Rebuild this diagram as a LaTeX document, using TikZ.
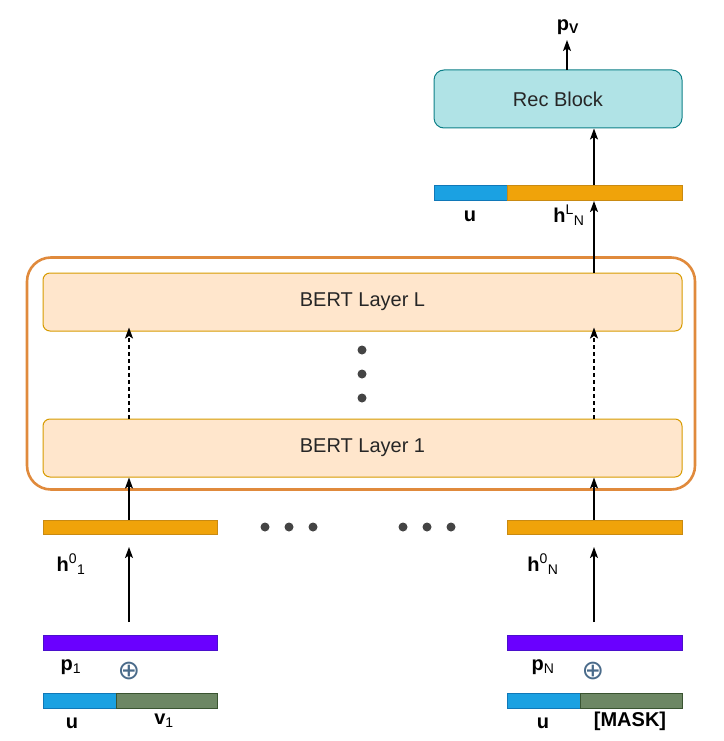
\documentclass[tikz,border=0pt]{standalone}
\usepackage{fontspec}
\setmainfont{Liberation Sans}
\newfontfamily\djv{DejaVu Sans}
\usetikzlibrary{arrows.meta}
\definecolor{orfill}{HTML}{F0A30A}
\definecolor{orline}{HTML}{C98A12}
\definecolor{blfill}{HTML}{1BA1E2}
\definecolor{blline}{HTML}{1078B8}
\definecolor{grfill}{HTML}{6D8764}
\definecolor{grline}{HTML}{3A5431}
\definecolor{pufill}{HTML}{6A00FF}
\definecolor{puline}{HTML}{4A10CC}
\definecolor{recfill}{HTML}{B0E3E6}
\definecolor{recline}{HTML}{0E8088}
\definecolor{bertfill}{HTML}{FFE6CC}
\definecolor{bertline}{HTML}{D79B00}
\definecolor{outerline}{HTML}{E08A3C}
\definecolor{dotcol}{HTML}{444444}
\definecolor{opluscol}{HTML}{4A6B8A}
\begin{document}
\begin{tikzpicture}[x=1pt,y=-1pt,
  bar/.style={draw, line width=1pt, inner sep=0pt, minimum height=15pt, anchor=center},
  orbar/.style={bar, fill=orfill, draw=orline},
  blbar/.style={bar, fill=blfill, draw=blline, minimum width=73pt},
  grbar/.style={bar, fill=grfill, draw=grline},
  pubar/.style={bar, fill=pufill, draw=puline, minimum width=174pt},
  bertbox/.style={draw=bertline, fill=bertfill, line width=1pt, rounded corners=7pt, minimum width=639pt, minimum height=58pt, inner sep=0pt, font=\fontsize{20}{24}\selectfont, text=black!85},
  lab/.style={font=\fontsize{20}{24}\selectfont, inner sep=0pt, anchor=center},
  arr/.style={-{Stealth[length=11pt,width=8pt,inset=2.5pt]}, line width=1.3pt},
  darr/.style={arr, dash pattern=on 4pt off 3pt},
  dotn/.style={circle, fill=dotcol, minimum size=9pt, inner sep=0pt},
  oplus/.style={font=\djv\fontsize{27}{27}\selectfont, text=opluscol, inner sep=0pt, anchor=center}
]
\useasboundingbox (0,0) rectangle (723,741);

% outer container
\node[draw=outerline, line width=2.6pt, rounded corners=24pt, minimum width=668pt, minimum height=232pt, inner sep=0pt] (outer) at (361,373.5) {};
\node[bertbox] (bertL) at (362.5,302) {BERT Layer L};
\node[bertbox] (bert1) at (362.5,448) {BERT Layer 1};

% vertical dots
\node[dotn] (vd1) at (362,350) {};
\node[dotn] (vd2) at (362,374) {};
\node[dotn] (vd3) at (362,398) {};
% horizontal dots
\node[dotn] (hd1) at (265,527) {};
\node[dotn] (hd2) at (289,527) {};
\node[dotn] (hd3) at (313,527) {};
\node[dotn] (hd4) at (403,527) {};
\node[dotn] (hd5) at (427,527) {};
\node[dotn] (hd6) at (451,527) {};

% Rec block
\node[draw=recline, fill=recfill, line width=1pt, rounded corners=10pt, minimum width=248pt, minimum height=58pt, inner sep=0pt, font=\fontsize{20}{24}\selectfont, text=black!85] (rec) at (558,99) {Rec Block};

% top bar
\node[blbar] (topu) at (470.5,193) {};
\node[orbar, minimum width=175pt] (toph) at (594.5,193) {};

% h0 bars
\node[orbar, minimum width=174pt, minimum height=14pt] (hb1) at (130,527) {};
\node[orbar, minimum width=175pt, minimum height=14pt] (hbN) at (594.5,527) {};

% p bars
\node[pubar] (pb1) at (130,643) {};
\node[pubar, minimum width=175pt] (pbN) at (594.5,643) {};

% u / v bars
\node[blbar] (ub1) at (79.5,701) {};
\node[grbar, minimum width=101pt] (vb1) at (166.5,701) {};
\node[blbar] (ubN) at (543.5,701) {};
\node[grbar, minimum width=102pt] (mbN) at (631,701) {};

% labels
\node[lab] (pv) at (568,27) {\textbf{p}\textsubscript{\textbf{V}}};
\node[lab] (ltu) at (470,216) {\textbf{u}};
\node[lab] (lth) at (569,215) {\textbf{h}\textsuperscript{L}\textsubscript{N}};
\node[lab] (lh1) at (71,564) {\textbf{h}\textsuperscript{0}\textsubscript{1}};
\node[lab] (lhN) at (543,564) {\textbf{h}\textsuperscript{0}\textsubscript{N}};
\node[lab] (lp1) at (71,667) {\textbf{p}\textsubscript{1}};
\node[lab] (lpN) at (543,667) {\textbf{p}\textsubscript{N}};
\node[oplus] (op1) at (129,671) {⊕};
\node[oplus] (opN) at (593,671) {⊕};
\node[lab] (lu1) at (72,723) {\textbf{u}};
\node[lab] (lv1) at (164,721) {\textbf{v}\textsubscript{1}};
\node[lab] (luN) at (543,723) {\textbf{u}};
\node[lab] (lmN) at (630,721) {\textbf{[MASK]}};

% coordinates for free arrow ends
\coordinate (in1s) at (129,622);
\coordinate (in1e) at (129,547);
\coordinate (inNs) at (594,622);
\coordinate (inNe) at (594,547);
\coordinate (pvs) at (567,70);
\coordinate (pve) at (567,40);

% arrows
\draw[arr] (in1s) -- (in1e);
\draw[arr] (inNs) -- (inNe);
\draw[arr] (hb1.north -| in1s) -- (bert1.south -| in1s);
\draw[arr] (hbN.north -| inNs) -- (bert1.south -| inNs);
\draw[darr] (bert1.north -| in1s) -- ([yshift=4pt]bertL.south -| in1s);
\draw[darr] (bert1.north -| inNs) -- ([yshift=4pt]bertL.south -| inNs);
\draw[arr] (bertL.north -| inNs) -- (toph.south -| inNs);
\draw[arr] (toph.north -| inNs) -- (rec.south -| inNs);
\draw[arr] (pvs) -- (pve);
\end{tikzpicture}
\end{document}
